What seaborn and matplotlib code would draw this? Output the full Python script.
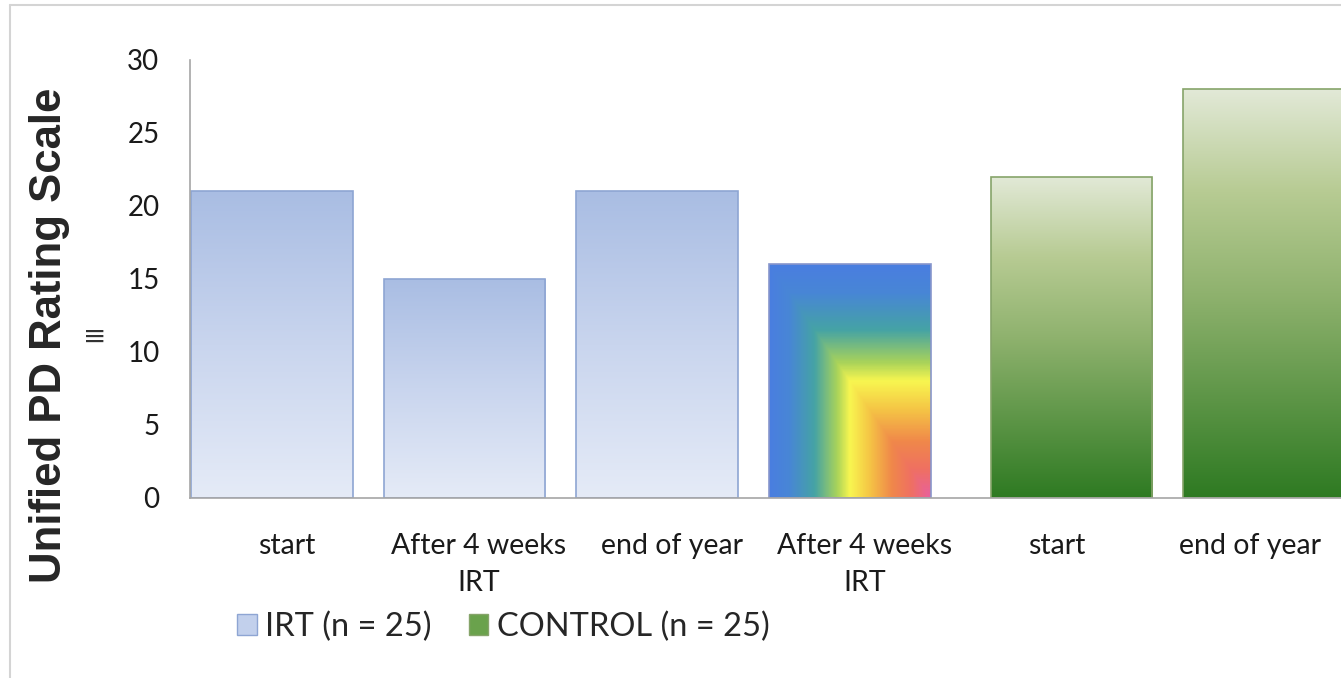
import numpy as np
import pandas as pd
import matplotlib.pyplot as plt
import seaborn as sns
from matplotlib.colors import LinearSegmentedColormap
from matplotlib.patches import Patch
from matplotlib.lines import Line2D

# data
tick_labels = ['start', 'After 4 weeks\nIRT', 'end of year', 'After 4 weeks\nIRT', 'start', 'end of year']
scores = [21, 15, 21, 16, 22, 28]
groups = ['IRT (n = 25)'] * 4 + ['CONTROL (n = 25)'] * 2
group_names = ['IRT (n = 25)', 'CONTROL (n = 25)']

df = pd.DataFrame({'pos': range(len(scores)), 'score': scores, 'group': groups})

sns.set_style('white')
plt.rcParams['font.family'] = ['Lato', 'DejaVu Sans']

blue_cmap = LinearSegmentedColormap.from_list('blue', ['#e5ebf7', '#c9d5ee', '#a9bde3'])
green_cmap = LinearSegmentedColormap.from_list(
    'green', [(0, '#2e7a22'), (0.5, '#8fb26e'), (0.75, '#b7cb93'), (1, '#e2e9d7')])
rainbow_cmap = LinearSegmentedColormap.from_list(
    'rainbow_fill', [(0, '#4a7ee0'), (0.12, '#4886d6'), (0.28, '#45a3a5'), (0.42, '#a9d35a'),
                     (0.5, '#f8f650'), (0.62, '#f5c645'), (0.76, '#f0884a'), (0.88, '#ef7062'),
                     (1, '#e8609e')])

fig = plt.figure(figsize=(13.41, 6.78), dpi=100)
ax = fig.add_axes([190 / 1341, 180 / 678, 1156 / 1341, 438 / 678])

sns.barplot(data=df, x='pos', y='score', hue='group', hue_order=group_names,
            dodge=False, width=0.84, errorbar=None, legend=False, ax=ax)


def gradient_fill(patch, img, cmap):
    x0, y0 = patch.get_x(), patch.get_y()
    w, h = patch.get_width(), patch.get_height()
    im = ax.imshow(img, cmap=cmap, extent=[x0, x0 + w, y0, y0 + h], origin='lower',
                   aspect='auto', interpolation='bilinear', vmin=0, vmax=1,
                   zorder=patch.get_zorder() - 0.1)
    im.set_clip_path(patch)
    patch.set_facecolor('none')


vert = np.linspace(0, 1, 256).reshape(-1, 1)
uu, rr = np.meshgrid(np.linspace(0, 1, 200), np.linspace(0, 1, 300))
corner = np.minimum(uu, 1 - rr)

for patch in ax.patches:
    if patch.get_height() == 0:
        continue
    i = int(round(patch.get_x() + patch.get_width() / 2))
    if groups[i] == group_names[0]:
        patch.set_x(patch.get_x() - 0.075)
    else:
        patch.set_x(patch.get_x() + 0.075)
    patch.set_linewidth(1.2)
    if i == 3:
        patch.set_edgecolor('#8896cc')
        gradient_fill(patch, corner, rainbow_cmap)
    elif groups[i] == group_names[0]:
        patch.set_edgecolor('#8ea5d3')
        gradient_fill(patch, vert, blue_cmap)
    else:
        patch.set_edgecolor('#86a46a')
        gradient_fill(patch, vert, green_cmap)

ax.set_xlim(-0.5, 5.5)
ax.set_ylim(0, 30)
ax.set_yticks(range(0, 31, 5))
ax.set_xticks(range(6))
ax.set_xticklabels(tick_labels, fontsize=20.5, color='#1a1a1a', linespacing=1.55)
ax.set_xticks(np.arange(-0.5, 5.6, 1), minor=True)
ax.tick_params(axis='x', which='major', length=0, pad=25)
ax.tick_params(axis='x', which='minor', length=7, width=1.2, color='#a6a6a6', direction='out')
ax.tick_params(axis='y', length=7, width=1.2, color='#a6a6a6', direction='out',
               labelsize=20, labelcolor='#1a1a1a', pad=15)
ax.set_xlabel('')
ax.set_ylabel('')
for side in ['top', 'right']:
    ax.spines[side].set_visible(False)
for side in ['left', 'bottom']:
    ax.spines[side].set_color('#a6a6a6')
    ax.spines[side].set_linewidth(1.2)

fig.text(50 / 1341, 343 / 678, 'Unified PD Rating Scale', rotation=90, ha='center', va='center',
         fontsize=31.5, fontweight='bold', family=['Liberation Sans', 'DejaVu Sans'])
fig.text(95 / 1341, 341 / 678, '≡', ha='center', va='center', fontsize=20, color='#333333',
         family=['DejaVu Sans'])

handles = [Patch(facecolor='#c2d0ec', edgecolor='#8ea5d3', label=group_names[0]),
           Patch(facecolor='#6aa24c', edgecolor='#86a46a', label=group_names[1])]
fig.legend(handles=handles, loc='center left', bbox_to_anchor=(237 / 1341, 51 / 678), ncol=2,
           frameon=False, fontsize=23.5, handlelength=0.6, handleheight=0.6,
           handletextpad=0.25, columnspacing=1.15, borderaxespad=0, borderpad=0)

# light frame around the figure
fig.add_artist(Line2D([10 / 1341, 10 / 1341], [0, 673 / 678], transform=fig.transFigure,
                      color='#d4d4d4', lw=1.5))
fig.add_artist(Line2D([10 / 1341, 1], [673 / 678, 673 / 678], transform=fig.transFigure,
                      color='#d4d4d4', lw=1.5))

fig.savefig('out.png', dpi=100)
